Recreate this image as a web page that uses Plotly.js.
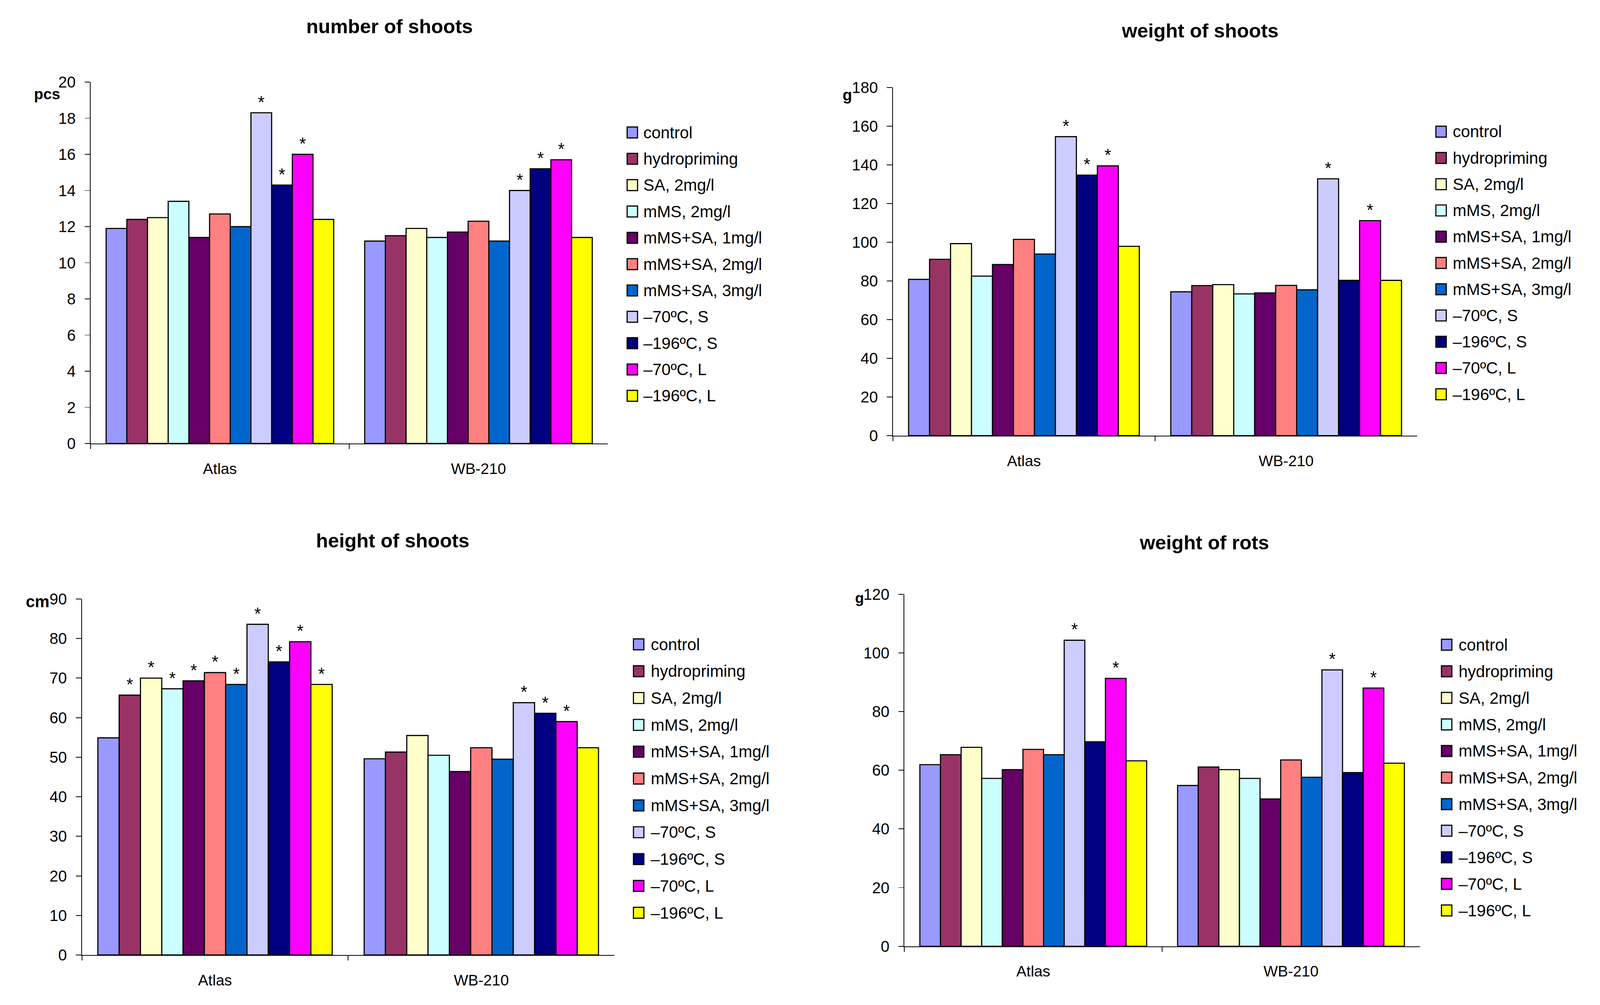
<!DOCTYPE html>
<html>
<head>
<meta charset="utf-8">
<script src="https://cdn.plot.ly/plotly-3.0.1.min.js"></script>
<style>html,body{margin:0;padding:0;background:#fff;overflow:hidden;}#chart{position:absolute;left:0;top:0;}</style>
</head>
<body>
<div id="chart"></div>
<script>
// ---------- data ----------
const categories = ['Atlas', 'WB-210'];
const treatments = ['control', 'hydropriming', 'SA, 2mg/l', 'mMS, 2mg/l', 'mMS+SA, 1mg/l',
  'mMS+SA, 2mg/l', 'mMS+SA, 3mg/l', '–70ºC, S', '–196ºC, S', '–70ºC, L', '–196ºC, L'];
const colors = ['#9999FF', '#993366', '#FFFFCC', '#CCFFFF', '#660066', '#FF8080',
  '#0066CC', '#CCCCFF', '#000080', '#FF00FF', '#FFFF00'];

const shootNumAtlas = [11.9, 12.4, 12.5, 13.4, 11.4, 12.7, 12.0, 18.3, 14.3, 16.0, 12.4];
const shootNumWB    = [11.2, 11.5, 11.9, 11.4, 11.7, 12.3, 11.2, 14.0, 15.2, 15.7, 11.4];
const shootNumSigAtlas = [0, 0, 0, 0, 0, 0, 0, 1, 1, 1, 0];
const shootNumSigWB    = [0, 0, 0, 0, 0, 0, 0, 1, 1, 1, 0];

const shootWtAtlas = [80.8, 91.2, 99.3, 82.5, 88.5, 101.5, 93.9, 154.6, 134.7, 139.5, 97.9];
const shootWtWB    = [74.4, 77.6, 78.1, 73.3, 73.8, 77.7, 75.4, 132.8, 80.3, 111.2, 80.3];
const shootWtSigAtlas = [0, 0, 0, 0, 0, 0, 0, 1, 1, 1, 0];
const shootWtSigWB    = [0, 0, 0, 0, 0, 0, 0, 1, 0, 1, 0];

const shootHtAtlas = [54.9, 65.7, 70.0, 67.3, 69.3, 71.4, 68.4, 83.6, 74.1, 79.2, 68.4];
const shootHtWB    = [49.6, 51.3, 55.5, 50.5, 46.4, 52.4, 49.5, 63.8, 61.1, 59.0, 52.4];
const shootHtSigAtlas = [0, 1, 1, 1, 1, 1, 1, 1, 1, 1, 1];
const shootHtSigWB    = [0, 0, 0, 0, 0, 0, 0, 1, 1, 1, 0];

const rootWtAtlas = [61.9, 65.3, 67.8, 57.2, 60.2, 67.1, 65.3, 104.3, 69.7, 91.3, 63.2];
const rootWtWB    = [54.8, 61.1, 60.2, 57.2, 50.2, 63.5, 57.6, 94.2, 59.2, 88.0, 62.4];
const rootWtSigAtlas = [0, 0, 0, 0, 0, 0, 0, 1, 0, 1, 0];
const rootWtSigWB    = [0, 0, 0, 0, 0, 0, 0, 1, 0, 1, 0];

const panelTitles = ['number of shoots', 'weight of shoots', 'height of shoots', 'weight of rots'];
const panelUnits = ['pcs', 'g', 'cm', 'g'];
const yMax = [20, 180, 90, 120];
const yStep = [2, 20, 10, 20];

// ---------- layout geometry (reference pixels, scaled to the window) ----------
const RW = 4299, RH = 2572;
const W = window.innerWidth || RW, H = window.innerHeight || RH;
const S = Math.min(W / RW, H / RH);
const fx = v => v / RW;
const fy = v => 1 - v / RH;
const z = v => v * S;
const FONT = 'Liberation Sans, Arial, sans-serif';

const chartDiv = document.getElementById('chart');
chartDiv.style.width = W + 'px';
chartDiv.style.height = H + 'px';

const panels = [
  {a: shootNumAtlas, w: shootNumWB, sa: shootNumSigAtlas, sw: shootNumSigWB,
   x0: 243.5, x1: 1633, yb: 1135, yt: 210, title: [1046, 67], unit: [126, 241, 41],
   leg: {sq: 1685, tx: 1727, y0: 339, dy: 67.4}},
  {a: shootWtAtlas, w: shootWtWB, sa: shootWtSigAtlas, sw: shootWtSigWB,
   x0: 2399, x1: 3808, yb: 1115, yt: 224, title: [3224, 79], unit: [2276, 243, 42],
   leg: {sq: 3858, tx: 3901, y0: 337, dy: 67.2}},
  {a: shootHtAtlas, w: shootHtWB, sa: shootHtSigAtlas, sw: shootHtSigWB,
   x0: 220, x1: 1651, yb: 2444, yt: 1533, title: [1055, 1384], unit: [101, 1539, 44],
   leg: {sq: 1702, tx: 1746, y0: 1649, dy: 68.7}},
  {a: rootWtAtlas, w: rootWtWB, sa: rootWtSigAtlas, sw: rootWtSigWB,
   x0: 2430, x1: 3815, yb: 2421.7, yt: 1520.6, title: [3236, 1388], unit: [2310, 1530, 39],
   leg: {sq: 3873, tx: 3917, y0: 1650, dy: 68.0}}
];

const traces = [];
const layout = {
  width: W, height: H,
  margin: {l: 0, r: 0, t: 0, b: 0},
  paper_bgcolor: '#fff', plot_bgcolor: '#fff',
  barmode: 'group', bargap: 0.12, bargroupgap: 0,
  showlegend: false,
  font: {family: FONT, color: '#000', size: z(42)},
  annotations: [], shapes: []
};

panels.forEach((p, k) => {
  const n = k + 1;
  const xa = 'x' + (n === 1 ? '' : n), ya = 'y' + (n === 1 ? '' : n);
  treatments.forEach((name, i) => {
    traces.push({
      type: 'bar', name: name, x: categories, y: [p.a[i], p.w[i]],
      xaxis: xa, yaxis: ya,
      marker: {color: colors[i], line: {color: '#000', width: z(3)}},
      text: [p.sa[i] ? '*' : '', p.sw[i] ? '*' : ''],
      textposition: 'outside', constraintext: 'none', cliponaxis: false,
      textfont: {family: FONT, size: z(46), color: '#000'},
      hoverinfo: 'x+y+name'
    });
  });
  layout['xaxis' + (n === 1 ? '' : n)] = {
    domain: [fx(p.x0), fx(p.x1)], anchor: ya,
    type: 'category', tickson: 'boundaries', ticks: 'outside', ticklen: z(13),
    tickwidth: z(2), tickcolor: '#000', showline: true, linecolor: '#000', linewidth: z(2),
    showgrid: false, zeroline: false, ticklabelstandoff: Math.round(z(30)),
    tickfont: {family: FONT, size: z(41), color: '#000'}, fixedrange: true
  };
  layout['yaxis' + (n === 1 ? '' : n)] = {
    domain: [fy(p.yb), fy(p.yt)], anchor: xa,
    range: [0, yMax[k]], dtick: yStep[k], tick0: 0,
    ticks: 'outside', ticklen: z(14), tickwidth: z(2), tickcolor: '#000',
    showline: true, linecolor: '#000', linewidth: z(2),
    showgrid: false, zeroline: false, ticklabelstandoff: Math.round(z(16)),
    tickfont: {family: FONT, size: z(42), color: '#000'}, fixedrange: true
  };
  // panel title
  layout.annotations.push({
    text: '<b>' + panelTitles[k] + '</b>', xref: 'paper', yref: 'paper',
    x: fx(p.title[0]), y: fy(p.title[1]), xanchor: 'center', yanchor: 'middle',
    showarrow: false, font: {family: FONT, size: z(53), color: '#000'}
  });
  // unit label
  layout.annotations.push({
    text: '<b>' + panelUnits[k] + '</b>', xref: 'paper', yref: 'paper',
    x: fx(p.unit[0]), y: fy(p.unit[1]), xanchor: 'center', yanchor: 'middle',
    showarrow: false, font: {family: FONT, size: z(p.unit[2]), color: '#000'}
  });
  // legend (built from the series names and colours)
  treatments.forEach((name, i) => {
    const cy = p.leg.y0 + i * p.leg.dy;
    layout.shapes.push({
      type: 'rect', xref: 'paper', yref: 'paper',
      x0: fx(p.leg.sq), x1: fx(p.leg.sq + 28), y0: fy(cy - 14), y1: fy(cy + 14),
      fillcolor: colors[i], line: {color: '#000', width: z(3)}
    });
    layout.annotations.push({
      text: name, xref: 'paper', yref: 'paper',
      x: fx(p.leg.tx), y: fy(cy), xanchor: 'left', yanchor: 'middle',
      showarrow: false, font: {family: FONT, size: z(44), color: '#000'}
    });
  });
});

Plotly.newPlot(chartDiv, traces, layout, {staticPlot: true, displayModeBar: false});
</script>
</body>
</html>
